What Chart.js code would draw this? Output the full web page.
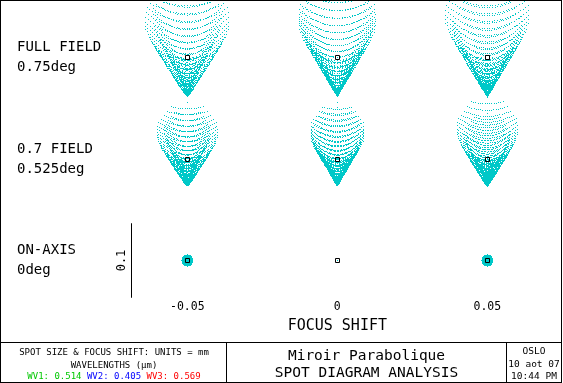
<!DOCTYPE html>
<html><head><meta charset="utf-8">
<script src="https://cdn.jsdelivr.net/npm/chart.js@4"></script>
<style>html,body{margin:0;padding:0;background:#fff;overflow:hidden}canvas{display:block}</style>
</head><body>
<canvas id="c" width="563" height="383"></canvas>
<script>
// ---------------- data ----------------
const focusShifts = [-0.05, 0, 0.05];              // mm (columns)
const focusTickLabels = ['-0.05', '0', '0.05'];
const fieldNames = ['FULL FIELD', '0.7 FIELD', 'ON-AXIS'];
const fieldAngles = ['0.75deg', '0.525deg', '0deg'];
const fieldRows = [2, 1, 0];
const comaBlur = [0.0517, 0.036, 0];               // mm, sagittal coma per field
const tangentialFocus = [0.0065, 0.0034, 0];       // mm, extra tangential defocus per field
const defocusBlur = [-0.0074, 0, 0.0074];          // mm, defocus blur radius per column
const rayGridStep = 0.04;                          // pupil grid step (normalised)
const scaleBarLength = 0.1;                        // mm
const wavelengthNames = ['WV1', 'WV2', 'WV3'];
const wavelengths = ['0.514', '0.405', '0.569'];
const lensTitle = 'Miroir Parabolique';
const analysisTitle = 'SPOT DIAGRAM ANALYSIS';
const unitsNote = 'SPOT SIZE & FOCUS SHIFT: UNITS = mm';
const wavelengthsNote = 'WAVELENGTHS (\u03bcm)';
const stampLines = ['OSLO', '10 aot 07', '10:44 PM'];
const axisTitle = 'FOCUS SHIFT';

// ---------------- layout / style ----------------
const FONT = '"DejaVu Sans Mono", monospace';
const SPOT = 'rgb(0,200,200)';
const WV_COLORS = ['#00c800', '#0000ff', '#ff0000'];
const PX_PER_MM = 745, COL_PX = 3000, ROW_PX = 101.5;
const magX = PX_PER_MM / COL_PX, magY = PX_PER_MM / ROW_PX;
const X_MIN = -0.0671, X_MAX = X_MIN + 425 / COL_PX;
const Y_MAX = 2 + 56.5 / ROW_PX, Y_MIN = -(36.5 / ROW_PX);

// pupil ray grid
const pupil = [];
const n = Math.round(1 / rayGridStep);
for (let i = -n; i <= n; i++) for (let j = -n; j <= n; j++) {
  const px = i * rayGridStep, py = j * rayGridStep;
  if (px * px + py * py <= 1 + 1e-9) pupil.push([px, py]);
}
function spot(fi, ci) {
  const C = comaBlur[fi], D = defocusBlur[ci], Dy = D + tangentialFocus[fi];
  return pupil.map(([px, py]) => ({
    x: focusShifts[ci] + (2 * C * px * py + D * px) * magX,
    y: fieldRows[fi] + (C * (px * px + 3 * py * py) + Dy * py - C) * magY
  }));
}
const datasets = [];
const centroids = [];
fieldRows.forEach((r, fi) => focusShifts.forEach((f, ci) => {
  datasets.push({ data: spot(fi, ci), snap: true, pointStyle: 'rect', pointRadius: 0.7072,
    pointBorderWidth: 0, backgroundColor: SPOT, borderColor: SPOT, order: 1, clip: 0 });
  centroids.push({ x: f, y: r });
}));
datasets.push({ data: centroids, snap: true, pointStyle: 'rect', pointRadius: 2.83,
  pointBorderWidth: 1, borderColor: '#000', backgroundColor: 'rgba(0,0,0,0)', order: -1, clip: 0 });

const snapPlugin = {
  id: 'snap',
  afterDatasetsUpdate(chart) {
    chart.data.datasets.forEach((ds, i) => {
      if (!ds.snap) return;
      chart.getDatasetMeta(i).data.forEach(p => {
        p.x = Math.floor(p.x + 1e-6) + 0.5; p.y = Math.floor(p.y + 1e-6) + 0.5;
      });
    });
  }
};

const framePlugin = {
  id: 'frame',
  afterDraw(chart) {
    const ctx = chart.ctx, xs = chart.scales.x, ys = chart.scales.y, area = chart.chartArea;
    ctx.save();
    ctx.strokeStyle = '#000'; ctx.lineWidth = 1;
    ctx.strokeRect(0.5, 0.5, 561, 382);
    ctx.beginPath();
    ctx.moveTo(0, 342.5); ctx.lineTo(562, 342.5);
    ctx.moveTo(226.5, 342); ctx.lineTo(226.5, 383);
    ctx.moveTo(506.5, 342); ctx.lineTo(506.5, 383);
    ctx.stroke();
    // scale bar
    const row0 = fieldRows[2];
    const yTop = ys.getPixelForValue(row0 + scaleBarLength / 2 * magY);
    const yBot = ys.getPixelForValue(row0 - scaleBarLength / 2 * magY);
    const xb = Math.round(area.left - 5) + 0.5;
    ctx.beginPath(); ctx.moveTo(xb, yTop); ctx.lineTo(xb, yBot); ctx.stroke();
    ctx.fillStyle = '#000';
    ctx.save();
    ctx.translate(xb - 9.5, ys.getPixelForValue(row0));
    ctx.rotate(-Math.PI / 2);
    ctx.font = '12px ' + FONT; ctx.textAlign = 'center'; ctx.textBaseline = 'middle';
    ctx.fillText(String(scaleBarLength), 0, 0);
    ctx.restore();
    // axis title
    ctx.font = '15px ' + FONT; ctx.textAlign = 'center'; ctx.textBaseline = 'middle';
    ctx.fillText(axisTitle, xs.getPixelForValue(0), 326);
    // bottom-left panel
    ctx.font = '9px ' + FONT;
    ctx.fillText(unitsNote, 114, 353);
    ctx.fillText(wavelengthsNote, 114, 365.5);
    const parts = wavelengthNames.map((w, i) => w + ': ' + wavelengths[i] + (i < 2 ? ' ' : ''));
    const widths = parts.map(p => ctx.measureText(p).width);
    let x = 114 - widths.reduce((a, b) => a + b, 0) / 2;
    ctx.textAlign = 'left';
    parts.forEach((p, i) => { ctx.fillStyle = WV_COLORS[i]; ctx.fillText(p, x, 377); x += widths[i]; });
    // middle panel
    ctx.fillStyle = '#000'; ctx.textAlign = 'center';
    ctx.font = '14.5px ' + FONT;
    ctx.fillText(lensTitle, 366.5, 356);
    ctx.fillText(analysisTitle, 366.5, 373);
    // right panel
    ctx.font = '9.5px ' + FONT;
    stampLines.forEach((s, i) => ctx.fillText(s, 534, 352 + i * 12.5));
    ctx.restore();
  }
};

new Chart(document.getElementById('c'), {
  type: 'scatter',
  data: { datasets },
  options: {
    responsive: false, animation: false, events: [], devicePixelRatio: 1,
    parsing: false, normalized: true,
    layout: { autoPadding: false, padding: { left: 17, top: 1, right: 2, bottom: 48 } },
    plugins: { legend: { display: false }, tooltip: { enabled: false } },
    scales: {
      x: {
        type: 'linear', min: X_MIN, max: X_MAX, bounds: 'data',
        grid: { display: false, drawTicks: false }, border: { display: false },
        afterBuildTicks: s => { s.ticks = focusShifts.map(v => ({ value: v })); },
        afterFit: s => { s.height = 38; s.paddingLeft = 0; s.paddingRight = 0; },
        ticks: { autoSkip: false, maxRotation: 0, padding: 3, color: '#000',
          font: { family: 'DejaVu Sans Mono', size: 11.5 },
          callback: v => focusTickLabels[focusShifts.indexOf(v)] }
      },
      y: {
        type: 'linear', min: Y_MIN, max: Y_MAX, bounds: 'data',
        grid: { display: false, drawTicks: false }, border: { display: false },
        afterBuildTicks: s => { s.ticks = fieldRows.map(v => ({ value: v })); },
        afterFit: s => { s.width = 119; s.paddingTop = 0; s.paddingBottom = 0; },
        ticks: { autoSkip: false, crossAlign: 'far', padding: 0, color: '#000',
          font: { family: 'DejaVu Sans Mono', size: 14, lineHeight: '20px' },
          callback: v => { const i = fieldRows.indexOf(v); return [fieldNames[i], fieldAngles[i]]; } }
      }
    }
  },
  plugins: [snapPlugin, framePlugin]
});
</script>
</body></html>
